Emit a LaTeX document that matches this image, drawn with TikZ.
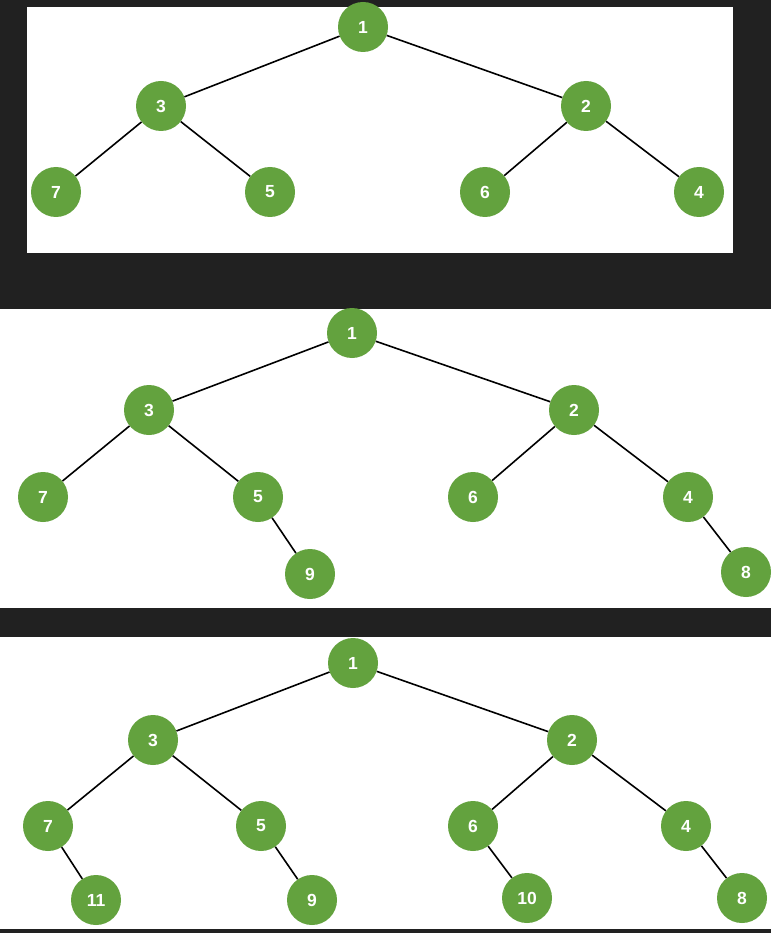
\documentclass[tikz,border=0pt]{standalone}
\usepackage{fontspec}
\setmainfont{Liberation Sans}
\usepackage{tikz}
\usetikzlibrary{positioning}

\definecolor{leafgreen}{RGB}{99,162,62}
\definecolor{darkbar}{RGB}{33,33,33}

\begin{document}
\begin{tikzpicture}[
			x=1pt, y=-1pt,
			treenode/.style={circle, fill=leafgreen, minimum size=50pt, inner sep=0pt, text=white, font=\bfseries\fontsize{17.5}{17.5}\selectfont},
			edge/.style={draw=black, line width=1.6pt}
			]
			
			% Backgrounds
			\fill[darkbar] (0,0) rectangle (771,933);
			\fill[white] (27,7) rectangle (733,253);
			\fill[white] (0,309) rectangle (771,608);
			\fill[white] (0,637) rectangle (771,929);
			\useasboundingbox (0,0) rectangle (771,933);
			
			% First tree
			\node[treenode] (a1) at (363,27) {1};
			\node[treenode] (a3) at (161,106) {3};
			\node[treenode] (a2) at (586,106) {2};
			\node[treenode] (a7) at (56,192) {7};
			\node[treenode] (a5) at (270,192) {5};
			\node[treenode] (a6) at (485,192) {6};
			\node[treenode] (a4) at (699,192) {4};
			
			\draw[edge] (a1) -- (a3);
			\draw[edge] (a1) -- (a2);
			\draw[edge] (a3) -- (a7);
			\draw[edge] (a3) -- (a5);
			\draw[edge] (a2) -- (a6);
			\draw[edge] (a2) -- (a4);
			
			% Second tree
			\node[treenode] (b1) at (352,333) {1};
			\node[treenode] (b3) at (149,410) {3};
			\node[treenode] (b2) at (574,410) {2};
			\node[treenode] (b7) at (43,497) {7};
			\node[treenode] (b5) at (258,497) {5};
			\node[treenode] (b6) at (473,497) {6};
			\node[treenode] (b4) at (688,497) {4};
			\node[treenode] (b9) at (310,574) {9};
			\node[treenode] (b8) at (746,572) {8};
			
			\draw[edge] (b1) -- (b3);
			\draw[edge] (b1) -- (b2);
			\draw[edge] (b3) -- (b7);
			\draw[edge] (b3) -- (b5);
			\draw[edge] (b2) -- (b6);
			\draw[edge] (b2) -- (b4);
			\draw[edge] (b5) -- (b9);
			\draw[edge] (b4) -- (b8);
			
			% Third tree
			\node[treenode] (c1) at (353,663) {1};
			\node[treenode] (c3) at (153,740) {3};
			\node[treenode] (c2) at (572,740) {2};
			\node[treenode] (c7) at (48,826) {7};
			\node[treenode] (c5) at (261,826) {5};
			\node[treenode] (c6) at (473,826) {6};
			\node[treenode] (c4) at (686,826) {4};
			\node[treenode] (c11) at (96,900) {11};
			\node[treenode] (c9) at (312,900) {9};
			\node[treenode] (c10) at (527,898) {10};
			\node[treenode] (c8) at (742,898) {8};
			
			\draw[edge] (c1) -- (c3);
			\draw[edge] (c1) -- (c2);
			\draw[edge] (c3) -- (c7);
			\draw[edge] (c3) -- (c5);
			\draw[edge] (c2) -- (c6);
			\draw[edge] (c2) -- (c4);
			\draw[edge] (c7) -- (c11);
			\draw[edge] (c5) -- (c9);
			\draw[edge] (c6) -- (c10);
			\draw[edge] (c4) -- (c8);
			
		\end{tikzpicture}
\end{document}
